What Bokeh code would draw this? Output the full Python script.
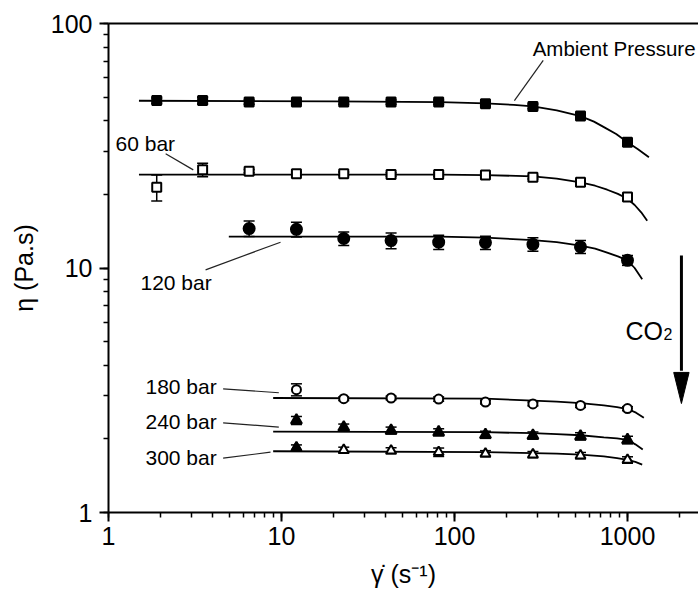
from bokeh.plotting import figure
from bokeh.models import (ColumnDataSource, Whisker, TeeHead, Label, Arrow,
                          LogAxis, LogTicker, PrintfTickFormatter, Range1d)
from bokeh.embed import file_html
from bokeh.resources import INLINE

# ---------------- data ----------------
shear_rate = [1.9, 3.5, 6.5, 12.2, 22.9, 43, 81, 151, 284, 535, 1000]

eta_ambient = [48.4, 48.4, 47.7, 47.7, 47.7, 47.7, 47.7, 47.0, 45.8, 41.8, 32.7]
err_ambient = [1.2, 1.5, 1.0, 1.0, 1.0, 1.0, 1.0, 1.0, 1.0, 1.0, 1.0]

eta_60 = [21.4, 25.2, 24.9, 24.3, 24.3, 24.1, 24.1, 24.0, 23.5, 22.4, 19.5]
err_60 = [2.6, 1.6, 0.4, 0.4, 0.4, 0.4, 0.4, 0.4, 0.4, 0.5, 0.6]

rate_120 = [6.5, 12.2, 22.9, 43, 81, 151, 284, 535, 1000]
eta_120 = [14.5, 14.4, 13.2, 12.95, 12.75, 12.7, 12.5, 12.2, 10.75]
err_120 = [1.05, 1.0, 0.85, 0.95, 0.85, 0.8, 0.8, 0.75, 0.5]

rate_high = [12.2, 22.9, 43, 81, 151, 284, 535, 1000]
eta_180 = [3.18, 2.92, 2.94, 2.91, 2.83, 2.78, 2.74, 2.66]
err_180 = [0.18, 0.05, 0.05, 0.06, 0.05, 0.05, 0.05, 0.05]
eta_240 = [2.38, 2.23, 2.165, 2.13, 2.08, 2.065, 2.05, 1.98]
err_240 = [0.09, 0.07, 0.07, 0.07, 0.07, 0.07, 0.07, 0.07]
eta_300 = [1.84, 1.80, 1.79, 1.765, 1.74, 1.726, 1.71, 1.64]
err_300 = [0.05, 0.05, 0.05, 0.07, 0.05, 0.05, 0.05, 0.05]

# fitted curves
fit_amb_x = [1.5, 20, 83, 151, 220, 284, 390, 535, 640, 735, 860, 1000, 1150, 1330]
fit_amb_y = [48.3, 48.0, 47.7, 47.1, 46.5, 45.8, 44.1, 41.8, 39.7, 37.6, 35.3, 32.7, 30.6, 28.4]
fit_60_x = [1.5, 83, 151, 284, 390, 535, 650, 763, 880, 1000, 1100, 1200, 1300]
fit_60_y = [24.1, 24.1, 24.0, 23.7, 23.2, 22.4, 21.7, 20.9, 20.1, 19.2, 18.1, 16.9, 15.6]
fit_120_x = [4.96, 83, 151, 284, 390, 535, 650, 763, 880, 1000, 1100, 1216]
fit_120_y = [13.45, 13.45, 13.3, 13.0, 12.75, 12.34, 12.0, 11.55, 11.15, 10.74, 10.0, 9.0]
fit_180_x = [8.95, 151, 284, 390, 535, 730, 870, 1000, 1120, 1243]
fit_180_y = [2.94, 2.92, 2.87, 2.84, 2.80, 2.74, 2.70, 2.65, 2.56, 2.44]
fit_240_x = [8.95, 151, 284, 390, 535, 730, 870, 1000, 1110, 1225]
fit_240_y = [2.14, 2.13, 2.11, 2.09, 2.07, 2.03, 2.01, 1.98, 1.90, 1.81]
fit_300_x = [8.95, 151, 284, 390, 535, 730, 870, 1000, 1110, 1216]
fit_300_y = [1.78, 1.765, 1.75, 1.74, 1.726, 1.695, 1.67, 1.64, 1.61, 1.57]

FONT = "Liberation Sans"

p = figure(width=698, height=600, x_axis_type="log", y_axis_type="log",
           x_range=Range1d(1, 2573), y_range=Range1d(1, 100),
           output_backend="svg", toolbar_location=None,
           min_border_left=108, min_border_right=0, min_border_top=23, min_border_bottom=88)
p.xgrid.visible = False
p.ygrid.visible = False
p.outline_line_color = None
p.background_fill_color = "white"
p.border_fill_color = "white"

for ax in (p.xaxis[0], p.yaxis[0]):
    ax.ticker = LogTicker(num_minor_ticks=10)
    ax.formatter = PrintfTickFormatter(format="%d")
    ax.axis_line_width = 2
    ax.axis_line_color = "black"
    ax.major_tick_line_width = 2
    ax.major_tick_line_color = "black"
    ax.minor_tick_line_width = 1.5
    ax.minor_tick_line_color = "black"
    ax.major_tick_out = 9
    ax.major_tick_in = 0
    ax.minor_tick_out = 5
    ax.minor_tick_in = 0
    ax.major_label_text_font = FONT
    ax.major_label_text_font_size = "25px"
    ax.major_label_text_color = "black"
    ax.axis_label_text_font = FONT
    ax.axis_label_text_font_size = "25px"
    ax.axis_label_text_font_style = "normal"
    ax.axis_label_text_color = "black"

p.xaxis.axis_label = "γ̇ (s⁻¹)"
p.yaxis.axis_label = "η (Pa.s)"
p.xaxis.major_label_standoff = 5
p.yaxis.major_label_standoff = 7
p.xaxis.axis_label_standoff = 12
p.yaxis.axis_label_standoff = 10

top_axis = LogAxis(ticker=LogTicker(num_minor_ticks=10), axis_line_width=2, axis_line_color="black",
                   major_tick_line_color=None, minor_tick_line_color=None,
                   major_tick_out=0, major_tick_in=0, minor_tick_out=0, minor_tick_in=0,
                   major_label_text_font_size="2px", major_label_text_color=None,
                   major_label_standoff=0)
p.add_layout(top_axis, "above")

# fitted lines
for fx, fy in [(fit_amb_x, fit_amb_y), (fit_60_x, fit_60_y), (fit_120_x, fit_120_y),
               (fit_180_x, fit_180_y), (fit_240_x, fit_240_y), (fit_300_x, fit_300_y)]:
    p.line(fx, fy, line_width=1.8, line_color="black")


def series(x, y, err, marker, size, filled):
    lo = [v - e for v, e in zip(y, err)]
    hi = [v + e for v, e in zip(y, err)]
    src = ColumnDataSource(dict(x=x, y=y, lo=lo, hi=hi))
    w = Whisker(source=src, base="x", upper="hi", lower="lo", dimension="height",
                line_width=1.5, line_color="black", level="underlay",
                upper_head=TeeHead(size=11, line_width=1.5, line_color="black"),
                lower_head=TeeHead(size=11, line_width=1.5, line_color="black"))
    p.add_layout(w)
    p.scatter("x", "y", source=src, marker=marker, size=size,
              fill_color="black" if filled else "white", line_color="black", line_width=2)


series(shear_rate, eta_ambient, err_ambient, "square", 9, True)
series(shear_rate, eta_60, err_60, "square", 9, False)
series(rate_120, eta_120, err_120, "circle", 11, True)
series(rate_high, eta_180, err_180, "circle", 9, False)
series(rate_high, eta_240, err_240, "triangle", 11, True)
series(rate_high, eta_300, err_300, "triangle", 10, False)
p.scatter(rate_high[:1], eta_300[:1], marker="triangle", size=10, fill_color="black",
          line_color="black", line_width=2)

# leader lines for the series labels
p.segment(x0=[325.8, 2.14, 3.64, 4.60, 4.60, 4.60],
          y0=[70.6, 29.3, 9.83, 3.206, 2.327, 1.668],
          x1=[222, 3.09, 9.87, 9.65, 9.65, 8.64],
          y1=[48.4, 25.2, 12.75, 3.088, 2.234, 1.765],
          line_width=1.2, line_color="#222222")

for tx, ty, txt, fs in [(283, 79.1, "Ambient Pressure", "20.5px"), (1.098, 32.4, "60 bar", "21px"),
                        (1.53, 8.75, "120 bar", "21px"), (1.636, 3.276, "180 bar", "21px"),
                        (1.636, 2.363, "240 bar", "21px"), (1.636, 1.674, "300 bar", "21px")]:
    p.add_layout(Label(x=tx, y=ty, text=txt, text_font=FONT, text_font_size=fs,
                       text_align="left", text_baseline="middle", text_color="black"))

# CO2 with a smaller subscript "2"
p.add_layout(Label(x=973, y=5.5, text="CO", text_font=FONT, text_font_size="25px",
                   text_align="left", text_baseline="middle", text_color="black"))
p.add_layout(Label(x=1615, y=5.37, text="2", text_font=FONT, text_font_size="16px",
                   text_align="left", text_baseline="middle", text_color="black"))

# downward arrow (shaft + long narrow head)
p.add_layout(Arrow(x_start=2050, y_start=11.25, x_end=2050, y_end=3.8,
                   line_width=3, line_color="black", end=None))
p.patch(x=[1850, 2270, 2050], y=[3.74, 3.74, 2.79], fill_color="black", line_color="black",
        line_width=1)

open("out.html", "w").write(file_html(p, INLINE))
